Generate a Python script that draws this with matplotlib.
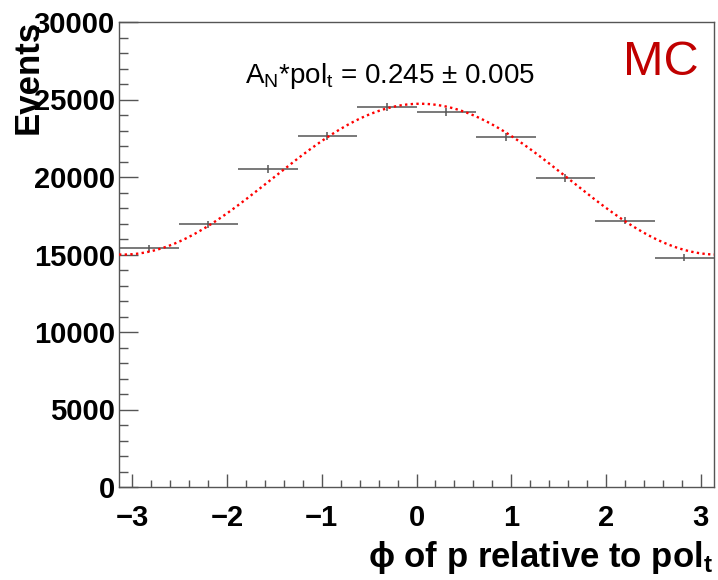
import numpy as np
import matplotlib
matplotlib.use('Agg')
import matplotlib.pyplot as plt
from matplotlib.ticker import MultipleLocator

plt.rcParams['font.family'] = ['Liberation Sans', 'DejaVu Sans']
plt.rcParams['mathtext.fontset'] = 'custom'
plt.rcParams['mathtext.rm'] = 'Liberation Sans'
plt.rcParams['mathtext.bf'] = 'Liberation Sans:bold'
plt.rcParams['mathtext.it'] = 'Liberation Sans:italic'

# histogram contents, 10 bins from -pi to pi
bin_edges = np.linspace(-np.pi, np.pi, 11)
counts = [15400, 16950, 20500, 22650, 24500, 24180, 22580, 19920, 17180, 14800]
errors = [220, 230, 250, 260, 270, 270, 260, 250, 230, 220]

# fit result: N * (1 + A cos(phi - phi0))
fit_norm = 19860
fit_amp = 0.245
fit_phase = 0.04

gray = '#555555'

fig = plt.figure(figsize=(7.18, 5.80), dpi=100)
ax = fig.add_axes([119/718, 1-487/580, 595/718, 465/580])

centers = 0.5*(bin_edges[1:] + bin_edges[:-1])
half = 0.5*(bin_edges[1:] - bin_edges[:-1])
ax.errorbar(centers, counts, xerr=half, yerr=errors, fmt='none',
            ecolor=gray, elinewidth=1.1, capsize=0, zorder=2)

phi = np.linspace(-np.pi, np.pi, 400)
ax.plot(phi, fit_norm*(1 + fit_amp*np.cos(phi - fit_phase)),
        color='red', lw=1.7, ls=(0, (1, 1.4)), zorder=3)

ax.set_xlim(-np.pi, np.pi)
ax.set_ylim(0, 30000)

ax.xaxis.set_major_locator(MultipleLocator(1))
ax.xaxis.set_minor_locator(MultipleLocator(0.2))
ax.yaxis.set_major_locator(MultipleLocator(5000))
ax.yaxis.set_minor_locator(MultipleLocator(1000))

ax.tick_params(axis='both', which='both', direction='in', color=gray,
               width=1.0, top=False, right=False)
ax.tick_params(axis='y', which='major', length=13.5, pad=3)
ax.tick_params(axis='y', which='minor', length=6.5)
ax.tick_params(axis='x', which='major', length=9.5, pad=12)
ax.tick_params(axis='x', which='minor', length=5)
ax.tick_params(axis='both', labelsize=21)
for lab in ax.get_xticklabels() + ax.get_yticklabels():
    lab.set_fontweight('bold')

for sp in ax.spines.values():
    sp.set_color(gray)
    sp.set_linewidth(1.0)

fig.text(28/718, 1-20/580, 'Events', rotation=90, ha='center', va='top',
         fontsize=25, fontweight='bold')
fig.text(713/718, 1-567/580,
         '\u03d5 of p relative to pol$_{\\mathbf{t}}$',
         ha='right', va='baseline', fontsize=25, fontweight='bold')

fig.text(245/718, 1-83/580,
         'A$_\\mathregular{N}$*pol$_\\mathregular{t}$ = 0.245 \u00b1 0.005',
         ha='left', va='baseline', fontsize=20)
fig.text(623/718, 1-75/580, 'MC', ha='left', va='baseline',
         fontsize=35, color='#c00000')

fig.savefig('out.png', dpi=100)
